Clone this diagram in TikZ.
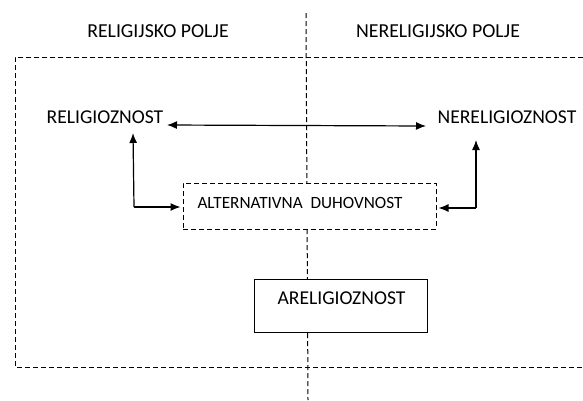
\documentclass[tikz,border=0pt]{standalone}
\usepackage{fontspec}
\setmainfont{Carlito}
\usetikzlibrary{arrows.meta}
\begin{document}
\begin{tikzpicture}[
			x=1pt, y=-1pt,
			field/.style={
				font=\fontsize{19.8}{22}\selectfont,
			},
			concept/.style={
				font=\fontsize{19.6}{22}\selectfont,
			},
			frame/.style={
				dash pattern=on 5pt off 3pt,
				line width=1pt,
			},
			ArrowC1/.style={% Arrows with square corners
				-{Latex[length=10pt,width=8pt]},
				line width=1.2pt,
			},
			]
				\useasboundingbox (0,0) rectangle (583,400);
				% fields
				\coordinate (top) at (306,13);
				\coordinate (bottom) at (308,400);
				\draw[frame] (top) -- (bottom);
				\coordinate (f1) at (583,57);
				\coordinate (f2) at (15,57);
				\coordinate (f3) at (15,367);
				\coordinate (f4) at (583,367);
				\draw[frame] (f1) -- (f2) -- (f3) -- (f4);
				\node[field] (relf) at (158,31) {RELIGIJSKO POLJE};
				\node[field] (nrelf) at (438,31) {NERELIGIJSKO POLJE};
				
				% concepts
				\node[concept] (rel) at (105,117) {RELIGIOZNOST};
				\node[concept] (nrel) at (507,117) {NERELIGIOZNOST};
				\node[frame, draw, fill=white, minimum width=253pt, minimum height=46pt] (alt) at (309.5,206) {};
				\node[font=\fontsize{17.2}{19}\selectfont] (alttxt) at (300,203) {ALTERNATIVNA\ \ DUHOVNOST};
				\node[draw, fill=white, line width=1pt, minimum width=173pt, minimum height=53pt] (arel) at (340.5,305.5) {};
				\node[concept] (areltxt) at (341.5,298) {ARELIGIOZNOST};
				
				% arrows
				\coordinate (a1) at (167,125);
				\coordinate (a2) at (426,126);
				\coordinate (l0) at (134,207);
				\coordinate (l1) at (133,133);
				\coordinate (r0) at (476,208);
				\coordinate (r1) at (476,140);
				\draw[{Latex[length=10pt,width=8pt]}-{Latex[length=10pt,width=8pt]}, line width=1.2pt] (a1) -- (a2);
				\draw[ArrowC1] (l0) -- (l1);
				\draw[ArrowC1] (l0) -- ([xshift=-2pt]alt.west |- l0);
				\draw[ArrowC1] (r0) -- (r1);
				\draw[ArrowC1] (r0) -- ([xshift=2pt]alt.east |- r0);
			\end{tikzpicture}
\end{document}
